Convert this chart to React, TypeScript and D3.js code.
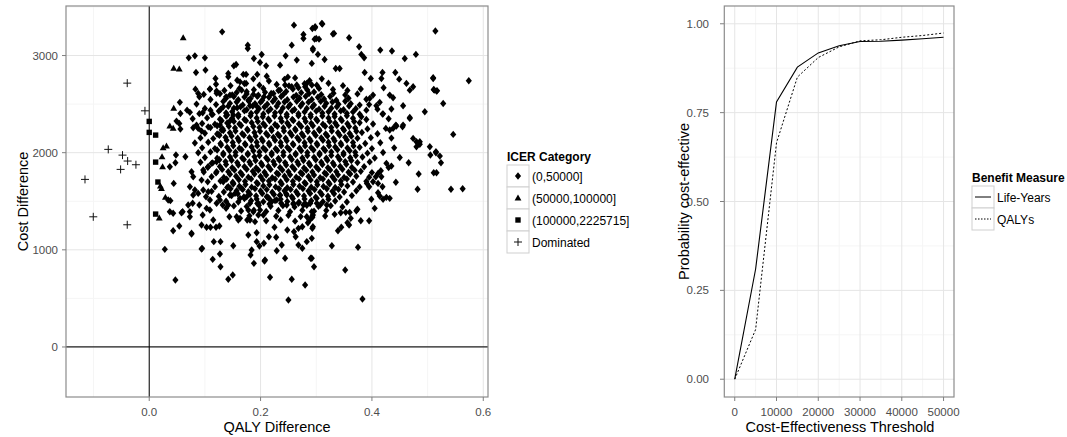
import * as d3 from "d3";

// ICER scatter: [QALY difference, cost difference]
const icerLow: [number, number][] = [
  [0.131,3244],[0.26,3313],[0.277,3217],[0.277,3176],[0.293,3279],[0.177,3107],[0.177,3073],[0.256,3107],[0.294,3073],
  [0.071,2976],[0.082,2997],[0.1,2976],[0.202,3011],[0.188,2970],[0.199,2929],[0.21,2894],[0.245,2997],[0.265,2953],
  [0.235,2901],[0.156,2908],[0.152,2894],[0.101,2850],[0.084,2826],[0.142,2816],[0.142,2781],[0.174,2806],[0.169,2806],
  [0.194,2806],[0.211,2788],[0.249,2778],[0.119,2764],[0.163,2729],[0.174,2713],[0.283,2713],[0.292,2696],[0.265,2696],
  [0.083,2654],[0.088,2610],[0.09,2575],[0.109,2654],[0.121,2634],[0.127,2606],[0.145,2593],[0.138,2575],[0.157,2620],
  [0.166,2644],[0.187,2600],[0.206,2575],[0.178,2541],[0.223,2610],[0.235,2644],[0.244,2696],[0.256,2678],[0.268,2668],
  [0.28,2678],[0.055,2518],[0.068,2438],[0.073,2415],[0.056,2404],[0.096,2411],[0.11,2438],[0.114,2394],[0.133,2472],
  [0.158,2462],[0.181,2483],[0.194,2472],[0.049,2325],[0.054,2301],[0.056,2243],[0.079,2256],[0.085,2284],[0.106,2266],
  [0.094,2222],[0.127,2284],[0.13,2233],[0.125,2188],[0.145,2325],[0.151,2387],[0.14,2387],
  [0.298,3286],[0.311,3324],[0.3,3176],[0.305,3169],[0.297,3169],[0.33,3221],[0.359,3183],[0.514,3252],[0.294,3056],
  [0.303,3012],[0.315,2960],[0.377,3090],[0.381,3012],[0.386,2977],[0.415,3056],[0.436,3046],[0.459,2970],[0.479,3012],
  [0.292,2919],[0.335,2867],[0.342,2867],[0.387,2826],[0.398,2764],[0.419,2826],[0.417,2764],[0.442,2826],[0.449,2757],
  [0.462,2713],[0.468,2644],[0.474,2678],[0.51,2771],[0.512,2644],[0.516,2634],[0.574,2740],[0.528,2507],[0.495,2421],
  [0.468,2353],[0.456,2483],[0.435,2449],[0.419,2397],[0.546,2188],[0.48,2113],[0.486,2086],[0.504,2061],[0.515,2010],
  [0.443,2284],[0.432,2233],[0.455,2267],[0.421,2668],[0.432,2593],[0.438,2565],[0.396,2559],[0.402,2593],[0.414,2518],
  [0.408,2483],[0.378,2490],[0.381,2370],[0.39,2438],
  [0.466,1896],[0.505,1976],[0.515,2000],[0.522,1965],[0.524,1896],[0.511,1793],[0.516,1793],[0.484,1780],[0.482,1623],
  [0.542,1623],[0.563,1629],[0.443,1695],[0.435,1862],[0.426,1890],[0.416,1814],[0.411,1787],[0.417,1752],[0.407,1752],
  [0.402,1701],[0.411,1684],[0.419,1650],[0.395,1650],[0.391,1684],[0.414,1554],[0.42,1520],[0.426,1540],[0.432,1530],
  [0.411,1588],[0.399,1520],[0.405,1427],[0.372,1403],[0.374,1417],[0.36,1386],[0.353,1386],[0.344,1382],[0.333,1365],
  [0.362,1324],[0.356,1279],[0.359,1255],[0.345,1232],[0.339,1197],[0.38,1300],[0.395,1300],[0.293,1334],[0.293,1221],
  [0.328,1042],[0.375,1026],[0.292,913],[0.296,826],[0.352,792],[0.383,494],[0.307,1461],[0.319,1461],[0.301,1479],
  [0.289,1479],
  [0.065,1958],[0.037,1855],[0.047,1896],[0.044,1684],[0.034,1513],[0.038,1506],[0.037,1392],[0.043,1376],[0.058,1382],
  [0.06,1392],[0.073,1392],[0.073,1341],[0.054,1245],[0.043,1197],[0.076,1170],[0.028,1005],[0.047,689],[0.094,1255],
  [0.103,1232],[0.11,1232],[0.12,1232],[0.126,1245],[0.096,1358],[0.09,1461],[0.103,1427],[0.109,1410],[0.115,1307],
  [0.078,1479],[0.07,1461],[0.094,1008],[0.116,1084],[0.128,1084],[0.127,957],[0.114,902],[0.128,826],[0.151,1042],
  [0.142,697],[0.15,741],[0.178,1152],[0.184,998],[0.182,947],[0.188,861],[0.193,1176],[0.193,1084],[0.198,1039],
  [0.206,1067],[0.208,895],[0.217,717],[0.215,1135],[0.228,1129],[0.238,1050],[0.229,991],[0.244,913],[0.225,1232],
  [0.248,1204],[0.26,1186],[0.268,1221],[0.275,1238],[0.263,1135],[0.268,1050],[0.275,1016],[0.283,1084],[0.292,1118],
  [0.256,697],[0.28,638],[0.25,484],[0.294,1238],[0.285,1279],[0.283,1341],[0.293,1348],[0.181,1307],[0.19,1290],
  [0.196,1358],[0.187,1392],[0.199,1410],[0.16,1307],[0.157,1341],[0.163,1324],[0.176,1307],[0.178,1410],[0.144,1341],
  [0.138,1427],[0.142,1461],[0.121,1479],[0.127,1513],[0.132,1461],[0.109,1513],[0.102,1547],[0.106,1598],[0.073,1650],
  [0.082,1616],[0.079,1564],[0.088,1581],[0.097,1616],[0.076,1804],[0.079,1752],[0.094,1718],[0.097,1821],[0.106,1855],
  [0.112,1890],[0.121,1907],[0.121,1804],[0.048,1976],[0.133,1701],[0.142,1650],[0.151,1684],[0.154,1581],[0.166,1633],
  [0.163,1530],[0.175,1547],[0.181,1479],[0.196,1479],[0.145,1564],[0.211,1547],[0.22,1495],[0.229,1513],[0.235,1564],
  [0.247,1564],[0.247,1461],[0.259,1479],[0.268,1479],[0.277,1461],[0.289,1479],[0.292,1392],
  [0.51,2764],[0.511,2651],[0.517,2637],[0.474,2147],[0.486,2113],[0.48,2061],[0.456,2284],[0.444,2274],[0.438,2250],
  [0.468,2363],[0.095,1015],[0.076,1163],[0.29,913],[0.207,885],[0.31,3330],[0.298,3296],[0.332,3228],
  // dense core of the cloud
  [0.158,2745],[0.187,2760],[0.215,2738],[0.243,2755],[0.262,2770],[0.288,2742],[0.31,2760],
  [0.12,2705],[0.146,2690],[0.171,2712],[0.198,2695],[0.229,2702],[0.251,2688],[0.279,2710],[0.301,2695],[0.322,2715],[0.348,2690],
  [0.109,2655],[0.135,2640],[0.162,2662],[0.188,2648],[0.205,2660],[0.232,2640],[0.258,2655],[0.284,2645],[0.305,2662],[0.33,2650],[0.356,2640],[0.38,2655],
  [0.098,2600],[0.121,2612],[0.149,2595],[0.175,2605],[0.196,2592],[0.219,2610],[0.241,2600],[0.264,2590],[0.287,2608],[0.309,2598],[0.331,2612],[0.352,2595],[0.374,2605],
  [0.11,2548],[0.138,2560],[0.16,2545],[0.182,2558],[0.203,2540],[0.226,2555],[0.248,2545],[0.27,2560],[0.292,2548],[0.314,2552],[0.336,2540],[0.358,2560],[0.39,2550],
  [0.085,2500],[0.12,2495],[0.145,2508],[0.168,2492],[0.19,2505],[0.212,2498],[0.232,2510],[0.253,2495],[0.275,2505],[0.296,2492],[0.318,2508],[0.34,2498],[0.362,2505],[0.395,2495],
  [0.1,2455],[0.128,2445],[0.152,2458],[0.175,2442],[0.197,2452],[0.218,2448],[0.24,2460],[0.261,2445],[0.283,2455],[0.305,2448],[0.327,2458],[0.349,2442],[0.371,2452],[0.41,2448],
  [0.09,2402],[0.112,2395],[0.138,2408],[0.16,2392],[0.183,2405],[0.205,2398],[0.226,2410],[0.247,2395],[0.268,2402],[0.29,2392],[0.311,2408],[0.333,2398],[0.355,2405],[0.378,2395],[0.42,2400],
  [0.078,2350],[0.104,2358],[0.127,2345],[0.149,2355],[0.171,2342],[0.193,2358],[0.214,2348],[0.236,2355],[0.257,2342],[0.279,2352],[0.3,2345],[0.322,2358],[0.344,2348],[0.366,2355],[0.39,2342],[0.43,2350],
  [0.095,2300],[0.118,2292],[0.14,2305],[0.162,2295],[0.184,2308],[0.205,2298],[0.226,2290],[0.248,2305],[0.269,2295],[0.291,2302],[0.312,2292],[0.334,2305],[0.356,2298],[0.378,2308],[0.402,2295],
  [0.088,2250],[0.11,2258],[0.132,2245],[0.154,2255],[0.176,2242],[0.198,2258],[0.219,2248],[0.241,2255],[0.262,2245],[0.284,2252],[0.305,2242],[0.327,2258],[0.348,2248],[0.37,2255],[0.392,2245],[0.425,2250],
  [0.1,2200],[0.122,2192],[0.145,2205],[0.167,2195],[0.189,2208],[0.21,2198],[0.231,2190],[0.253,2205],[0.274,2195],[0.296,2202],[0.317,2192],[0.339,2205],[0.36,2198],[0.382,2208],[0.41,2195],
  [0.092,2152],[0.115,2145],[0.137,2158],[0.159,2148],[0.18,2155],[0.202,2142],[0.223,2158],[0.245,2148],[0.266,2155],[0.288,2142],[0.309,2152],[0.331,2145],[0.352,2158],[0.374,2148],[0.398,2155],[0.435,2150],
  [0.082,2100],[0.106,2108],[0.128,2095],[0.15,2105],[0.172,2092],[0.193,2108],[0.215,2098],[0.236,2105],[0.258,2092],[0.279,2102],[0.301,2095],[0.322,2108],[0.344,2098],[0.366,2105],[0.388,2095],[0.415,2102],
  [0.095,2050],[0.118,2042],[0.14,2055],[0.162,2045],[0.184,2058],[0.205,2048],[0.227,2040],[0.248,2055],[0.27,2045],[0.291,2052],[0.313,2042],[0.334,2058],[0.356,2048],[0.378,2055],[0.4,2042],[0.44,2050],
  [0.088,2000],[0.11,2008],[0.133,1995],[0.155,2005],[0.177,1992],[0.198,2008],[0.22,1998],[0.241,2005],[0.263,1992],[0.284,2002],[0.306,1995],[0.327,2008],[0.349,1998],[0.37,2005],[0.392,1995],[0.42,2002],
  [0.1,1950],[0.122,1942],[0.145,1955],[0.167,1945],[0.189,1958],[0.21,1948],[0.232,1940],[0.253,1955],[0.275,1945],[0.296,1952],[0.318,1942],[0.339,1958],[0.361,1948],[0.383,1955],[0.405,1945],[0.45,1950],
  [0.092,1902],[0.114,1895],[0.137,1908],[0.158,1898],[0.18,1905],[0.201,1892],[0.223,1908],[0.244,1898],[0.266,1905],[0.287,1892],[0.309,1902],[0.33,1895],[0.352,1908],[0.374,1898],[0.396,1905],
  [0.105,1850],[0.127,1858],[0.149,1845],[0.171,1855],[0.192,1842],[0.214,1858],[0.235,1848],[0.257,1855],[0.278,1842],[0.3,1852],[0.321,1845],[0.343,1858],[0.364,1848],[0.386,1855],[0.43,1848],
  [0.098,1800],[0.12,1792],[0.142,1805],[0.164,1795],[0.186,1808],[0.207,1798],[0.229,1790],[0.25,1805],[0.272,1795],[0.293,1802],[0.315,1792],[0.336,1805],[0.358,1798],[0.38,1808],[0.4,1795],
  [0.112,1752],[0.134,1745],[0.156,1758],[0.178,1748],[0.2,1755],[0.221,1742],[0.243,1758],[0.264,1748],[0.286,1755],[0.307,1742],[0.329,1752],[0.35,1745],[0.372,1758],[0.395,1748],
  [0.105,1700],[0.128,1708],[0.15,1695],[0.172,1705],[0.193,1692],[0.215,1708],[0.236,1698],[0.258,1705],[0.279,1692],[0.301,1702],[0.322,1695],[0.344,1708],[0.366,1698],[0.39,1705],
  [0.118,1650],[0.14,1642],[0.162,1655],[0.184,1645],[0.205,1658],[0.227,1648],[0.248,1640],[0.27,1655],[0.291,1645],[0.313,1652],[0.334,1642],[0.356,1658],[0.378,1648],
  [0.112,1602],[0.134,1595],[0.157,1608],[0.178,1598],[0.2,1605],[0.221,1592],[0.243,1608],[0.264,1598],[0.286,1605],[0.307,1592],[0.329,1602],[0.35,1595],[0.372,1608],
  [0.125,1550],[0.148,1558],[0.17,1545],[0.192,1555],[0.213,1542],[0.235,1558],[0.256,1548],[0.278,1555],[0.299,1542],[0.321,1552],[0.342,1545],[0.364,1558],
  [0.138,1500],[0.16,1492],[0.183,1505],[0.205,1495],[0.226,1508],[0.248,1498],[0.269,1490],[0.291,1505],[0.312,1495],[0.334,1502],[0.355,1492],
  [0.152,1452],[0.175,1445],[0.197,1458],[0.218,1448],[0.24,1455],[0.261,1442],[0.283,1458],[0.304,1448],[0.326,1455],[0.347,1442],
  [0.165,1400],[0.188,1408],[0.21,1395],[0.232,1405],[0.253,1392],[0.275,1408],[0.296,1398],[0.318,1405],
  [0.18,1350],[0.205,1358],[0.228,1345],[0.25,1355],[0.272,1342],[0.294,1358],[0.316,1348],
  [0.21,1300],[0.236,1308],[0.262,1295],[0.288,1305],
  // points packed between the above in the darkest part
  [0.175,2628],[0.208,2622],[0.246,2630],[0.273,2618],[0.296,2625],
  [0.152,2578],[0.171,2572],[0.194,2580],[0.215,2570],[0.237,2578],[0.259,2572],[0.281,2580],[0.303,2570],[0.325,2578],
  [0.133,2528],[0.157,2522],[0.179,2530],[0.2,2520],[0.222,2528],[0.243,2522],[0.265,2530],[0.286,2520],[0.308,2528],[0.329,2522],[0.352,2530],
  [0.142,2478],[0.164,2472],[0.186,2480],[0.207,2470],[0.229,2478],[0.25,2472],[0.272,2480],[0.293,2470],[0.315,2478],[0.337,2472],[0.359,2480],
  [0.125,2428],[0.149,2422],[0.171,2430],[0.193,2420],[0.214,2428],[0.236,2422],[0.257,2430],[0.279,2420],[0.3,2428],[0.322,2422],[0.344,2430],[0.366,2420],
  [0.138,2378],[0.16,2372],[0.182,2380],[0.204,2370],[0.225,2378],[0.247,2372],[0.268,2380],[0.29,2370],[0.311,2378],[0.333,2372],[0.355,2380],
  [0.13,2328],[0.152,2322],[0.174,2330],[0.195,2320],[0.216,2328],[0.238,2322],[0.259,2330],[0.281,2320],[0.302,2328],[0.324,2322],[0.346,2330],[0.368,2320],
  [0.122,2278],[0.143,2272],[0.165,2280],[0.187,2270],[0.208,2278],[0.23,2272],[0.251,2280],[0.273,2270],[0.294,2278],[0.316,2272],[0.337,2280],[0.359,2270],
  [0.133,2228],[0.155,2222],[0.177,2230],[0.199,2220],[0.22,2228],[0.242,2222],[0.263,2230],[0.285,2220],[0.306,2228],[0.328,2222],[0.35,2230],[0.372,2220],
  [0.126,2178],[0.148,2172],[0.17,2180],[0.191,2170],[0.213,2178],[0.234,2172],[0.256,2180],[0.277,2170],[0.299,2178],[0.32,2172],[0.342,2180],[0.363,2170],
  [0.139,2128],[0.161,2122],[0.183,2130],[0.204,2120],[0.226,2128],[0.247,2122],[0.269,2130],[0.29,2120],[0.312,2128],[0.333,2122],[0.355,2130],
  [0.129,2078],[0.151,2072],[0.173,2080],[0.194,2070],[0.216,2078],[0.237,2072],[0.259,2080],[0.28,2070],[0.302,2078],[0.323,2072],[0.345,2080],[0.367,2070],
  [0.122,2028],[0.144,2022],[0.166,2030],[0.187,2020],[0.209,2028],[0.23,2022],[0.252,2030],[0.273,2020],[0.295,2028],[0.316,2022],[0.338,2030],[0.36,2020],
  [0.133,1978],[0.155,1972],[0.177,1980],[0.198,1970],[0.22,1978],[0.241,1972],[0.263,1980],[0.284,1970],[0.306,1978],[0.327,1972],[0.349,1980],[0.371,1970],
  [0.126,1928],[0.148,1922],[0.17,1930],[0.191,1920],[0.213,1928],[0.234,1922],[0.256,1930],[0.277,1920],[0.299,1928],[0.32,1922],[0.342,1930],[0.363,1920],
  [0.138,1878],[0.16,1872],[0.182,1880],[0.203,1870],[0.225,1878],[0.246,1872],[0.268,1880],[0.289,1870],[0.311,1878],[0.332,1872],[0.354,1880],
  [0.131,1828],[0.153,1822],[0.175,1830],[0.196,1820],[0.218,1828],[0.239,1822],[0.261,1830],[0.282,1820],[0.304,1828],[0.325,1822],[0.347,1830],[0.369,1820],
  [0.145,1778],[0.167,1772],[0.189,1780],[0.21,1770],[0.232,1778],[0.253,1772],[0.275,1780],[0.296,1770],[0.318,1778],[0.339,1772],[0.361,1780],
  [0.139,1728],[0.161,1722],[0.183,1730],[0.204,1720],[0.226,1728],[0.247,1722],[0.269,1730],[0.29,1720],[0.312,1728],[0.333,1722],[0.355,1730],
  [0.151,1678],[0.173,1672],[0.195,1680],[0.216,1670],[0.238,1678],[0.259,1672],[0.281,1680],[0.302,1670],[0.324,1678],[0.345,1672],
  [0.146,1628],[0.168,1622],[0.19,1630],[0.211,1620],[0.233,1628],[0.254,1622],[0.276,1630],[0.297,1620],[0.319,1628],[0.34,1622],
  [0.159,1578],[0.181,1572],[0.203,1580],[0.224,1570],[0.246,1578],[0.267,1572],[0.289,1580],[0.31,1570],[0.332,1578],
  [0.171,1528],[0.193,1522],[0.215,1530],[0.236,1520],[0.258,1528],[0.279,1522],[0.301,1530],[0.322,1520],
  [0.194,1478],[0.216,1472],[0.237,1480],[0.259,1470],[0.28,1478],
];

const icerMid: [number, number][] = [
  [0.061,3182],[0.044,2867],[0.054,2860],[0.044,2456],[0.037,2274],[0.043,2250],[0.025,2050],[0.031,2068],
  [0.023,1958],[0.024,1855],[0.02,1656],[0.022,1630],[0.029,1540],[0.018,1327],
];

const icerHigh: [number, number][] = [
  [0.0,2322],[0.0,2209],[0.0115,2181],[0.0115,1903],[0.0156,1698],[0.0115,1368],
];

const dominated: [number, number][] = [
  [-0.0395,2716],[-0.0077,2431],[-0.0736,2034],[-0.048,1975],[-0.0388,1914],[-0.0239,1876],[-0.0514,1828],
  [-0.1154,1725],[-0.1005,1340],[-0.0395,1258],
];

const icerCategories = ["(0,50000]", "(50000,100000]", "(100000,2225715]", "Dominated"];

// acceptability curve
const thresholds = [0, 5000, 10000, 15000, 20000, 25000, 30000, 35000, 40000, 45000, 50000];
const probLifeYears = [0, 0.31, 0.78, 0.878, 0.918, 0.938, 0.95, 0.951, 0.954, 0.958, 0.962];
const probQALYs = [0, 0.14, 0.665, 0.85, 0.905, 0.935, 0.952, 0.955, 0.962, 0.967, 0.974];
const benefitMeasures = ["Life-Years", "QALYs"];

const FONT = "Liberation Sans, Arial, sans-serif";
const TICK_COLOR = "#4d4d4d";

const diamond = "M0,-3.7L3.1,0L0,3.7L-3.1,0Z";
const triangle = "M0,-3.6L3.4,2.4L-3.4,2.4Z";
const square = "M-2.7,-2.7H2.7V2.7H-2.7Z";
const plus = "M-4,0H4M0,-4V4";

function Shape({ i }: { i: number }) {
  if (i === 3) return <path d={plus} stroke="#111" strokeWidth={1} fill="none" />;
  const d = [diamond, triangle, square][i];
  return <path d={d} fill="#000" />;
}

function ScatterPanel() {
  const x = d3.scaleLinear().domain([-0.1495, 0.6085]).range([66, 488]);
  const y = d3.scaleLinear().domain([-515, 3510]).range([397, 6]);
  const xMajor = [0, 0.2, 0.4, 0.6];
  const xMinor = [-0.1, 0.1, 0.3, 0.5];
  const yMajor = [0, 1000, 2000, 3000];
  const yMinor = [500, 1500, 2500, 3500];
  const series = [icerLow, icerMid, icerHigh, dominated];
  return (
    <g>
      <rect x={66} y={6} width={422} height={391} fill="#fff" />
      {xMinor.map(v => <line key={"xm" + v} x1={x(v)} x2={x(v)} y1={6} y2={397} stroke="#f5f5f5" />)}
      {yMinor.map(v => <line key={"ym" + v} x1={66} x2={488} y1={y(v)} y2={y(v)} stroke="#f5f5f5" />)}
      {xMajor.map(v => <line key={"xg" + v} x1={x(v)} x2={x(v)} y1={6} y2={397} stroke="#e5e5e5" />)}
      {yMajor.map(v => <line key={"yg" + v} x1={66} x2={488} y1={y(v)} y2={y(v)} stroke="#e5e5e5" />)}
      <line x1={66} x2={488} y1={y(0)} y2={y(0)} stroke="#222" strokeWidth={1.2} />
      <line x1={x(0)} x2={x(0)} y1={6} y2={397} stroke="#000" strokeWidth={1} />
      {series.map((pts, i) =>
        pts.map((p, j) => (
          <g key={i + "-" + j} transform={`translate(${x(p[0])},${y(p[1])})`}>
            <Shape i={i} />
          </g>
        ))
      )}
      <rect x={66} y={6} width={422} height={391} fill="none" stroke="#8c8c8c" strokeWidth={1.2} />
      {yMajor.map(v => (
        <g key={"yt" + v}>
          <line x1={62} x2={66} y1={y(v)} y2={y(v)} stroke="#7f7f7f" />
          <text x={58} y={y(v) + 4} textAnchor="end" fontSize={11.5} fill={TICK_COLOR}>{v}</text>
        </g>
      ))}
      {xMajor.map(v => (
        <g key={"xt" + v}>
          <line x1={x(v)} x2={x(v)} y1={397} y2={401} stroke="#7f7f7f" />
          <text x={x(v)} y={416} textAnchor="middle" fontSize={11.5} fill={TICK_COLOR}>{d3.format(".1f")(v)}</text>
        </g>
      ))}
      <text x={277} y={432} textAnchor="middle" fontSize={14.5}>QALY Difference</text>
      <text transform="translate(28,201.5) rotate(-90)" textAnchor="middle" fontSize={14.5}>Cost Difference</text>
      <text x={507} y={161} fontSize={12} fontWeight="bold">ICER Category</text>
      {icerCategories.map((c, i) => (
        <g key={c} transform={`translate(507,${165 + i * 22})`}>
          <rect x={0} y={0} width={22} height={22} fill="#fff" stroke="#cfcfcf" />
          <g transform="translate(11,11)"><Shape i={i} /></g>
          <text x={25} y={15.5} fontSize={12}>{c}</text>
        </g>
      ))}
    </g>
  );
}

function CeacPanel() {
  const x = d3.scaleLinear().domain([-2500, 52500]).range([724.3, 954]);
  const y = d3.scaleLinear().domain([-0.05, 1.05]).range([397, 6]);
  const xMajor = [0, 10000, 20000, 30000, 40000, 50000];
  const xMinor = [5000, 15000, 25000, 35000, 45000];
  const yMajor = [0, 0.25, 0.5, 0.75, 1];
  const yMinor = [0.125, 0.375, 0.625, 0.875];
  const line = d3.line<number>().x((_, i) => x(thresholds[i])).y(d => y(d));
  return (
    <g>
      {xMinor.map(v => <line key={"xm" + v} x1={x(v)} x2={x(v)} y1={6} y2={397} stroke="#f5f5f5" />)}
      {yMinor.map(v => <line key={"ym" + v} x1={724.3} x2={954} y1={y(v)} y2={y(v)} stroke="#f5f5f5" />)}
      {xMajor.map(v => <line key={"xg" + v} x1={x(v)} x2={x(v)} y1={6} y2={397} stroke="#e5e5e5" />)}
      {yMajor.map(v => <line key={"yg" + v} x1={724.3} x2={954} y1={y(v)} y2={y(v)} stroke="#e5e5e5" />)}
      <path d={line(probLifeYears) ?? ""} fill="none" stroke="#000" strokeWidth={1.1} />
      <path d={line(probQALYs) ?? ""} fill="none" stroke="#000" strokeWidth={1} strokeDasharray="2,2" />
      <rect x={724.3} y={6} width={229.7} height={391} fill="none" stroke="#8c8c8c" strokeWidth={1.2} />
      {yMajor.map(v => (
        <g key={"yt" + v}>
          <line x1={720} x2={724} y1={y(v)} y2={y(v)} stroke="#7f7f7f" />
          <text x={709} y={y(v) + 4} textAnchor="end" fontSize={11.5} fill={TICK_COLOR}>{d3.format(".2f")(v)}</text>
        </g>
      ))}
      {xMajor.map(v => (
        <g key={"xt" + v}>
          <line x1={x(v)} x2={x(v)} y1={397} y2={401} stroke="#7f7f7f" />
          <text x={x(v)} y={416} textAnchor="middle" fontSize={11.5} fill={TICK_COLOR}>{v}</text>
        </g>
      ))}
      <text x={840} y={432} textAnchor="middle" fontSize={14.5}>Cost-Effectiveness Threshold</text>
      <text transform="translate(689,201.5) rotate(-90)" textAnchor="middle" fontSize={14.5}>Probability cost-effective</text>
      <text x={972} y={182} fontSize={12} fontWeight="bold">Benefit Measure</text>
      {benefitMeasures.map((b, i) => (
        <g key={b} transform={`translate(972,${186 + i * 22})`}>
          <rect x={0} y={0} width={22} height={22} fill="#fff" stroke="#cfcfcf" />
          <line x1={3} x2={19} y1={11} y2={11} stroke="#000" strokeWidth={1}
            strokeDasharray={i === 1 ? "1.5,1.5" : undefined} />
          <text x={25} y={15.5} fontSize={12}>{b}</text>
        </g>
      ))}
    </g>
  );
}

export default function App() {
  return (
    <div style={{ position: "fixed", left: 0, top: 0, width: 1067, height: 437, background: "#fff" }}>
      <svg width={1067} height={437} style={{ display: "block", fontFamily: FONT }}>
        <rect width={1067} height={437} fill="#fff" />
        <ScatterPanel />
        <CeacPanel />
      </svg>
    </div>
  );
}
